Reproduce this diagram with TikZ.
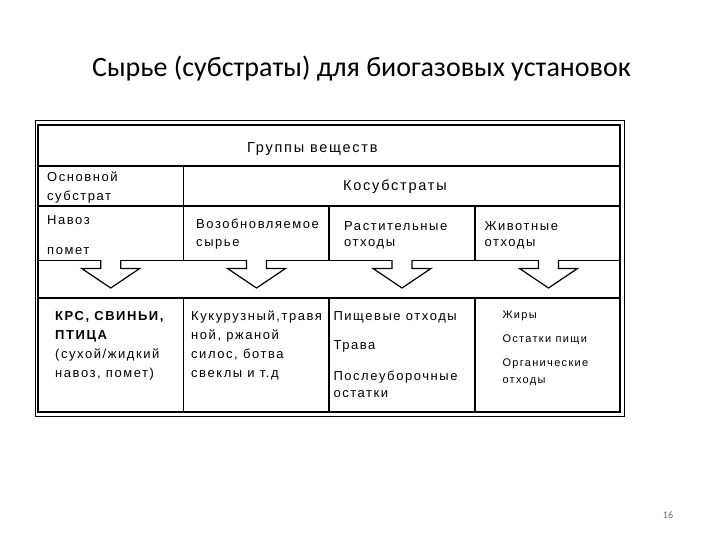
\documentclass[tikz,border=0pt]{standalone}
\usepackage{fontspec}
\setmainfont[LetterSpace=12]{Liberation Sans}
\newfontfamily\titlefont{Carlito}
\begin{document}
\begin{tikzpicture}[x=1pt,y=-1pt,
  thin frame/.style={line width=0.8pt},
  tbl/.style={line width=1.6pt},
  txt/.style={anchor=base west,inner sep=0pt,font=\fontsize{13}{15}\selectfont},
  small/.style={anchor=base west,inner sep=0pt,font=\fontsize{11}{13}\selectfont},
  head/.style={anchor=base west,inner sep=0pt,font=\fontsize{14.5}{17}\selectfont},
  bold/.style={anchor=base west,inner sep=0pt,font=\fontsize{13}{15}\selectfont\bfseries},
  arrowfill/.style={fill=white,draw=none},
  arrowline/.style={line width=1.2pt,line join=miter}]
\path[fill=white] (0,0) rectangle (720,540);
\useasboundingbox (0,0) rectangle (720,540);

% title
\node[anchor=base,inner sep=0pt,font=\titlefont\fontsize{28}{32}\selectfont] (title) at (361.5,77) {Сырье (субстраты) для биогазовых установок};
\node[anchor=base,inner sep=0pt,font=\titlefont\fontsize{10}{12}\selectfont,text=black!60] (page) at (668,518) {16};

% frames
\draw[thin frame] (35,120) rectangle (624,416);
\draw[tbl] (38,125) rectangle (620,412);
\draw[tbl] (38,166) -- (620,166);
\draw[tbl] (38,206) -- (620,206);
\draw[tbl] (38,260.5) -- (620,260.5);
\draw[tbl] (38,298) -- (620,298);
\draw[tbl] (183.5,166) -- (183.5,260.5);
\draw[tbl] (329,206) -- (329,260.5);
\draw[tbl] (475,206) -- (475,260.5);
\draw[tbl] (183.5,298) -- (183.5,412);
\draw[tbl] (329,298) -- (329,412);
\draw[tbl] (475,298) -- (475,412);

% arrows
\foreach \c in {110.7,256.5,402,548.5}{
  \path[arrowfill] (\c-10,259) -- (\c-10,268.5) -- (\c-29,268.5) -- (\c,288) -- (\c+29,268.5) -- (\c+10,268.5) -- (\c+10,259) -- cycle;
  \draw[arrowline] (\c-10,260) -- (\c-10,268.5) -- (\c-29,268.5) -- (\c,288) -- (\c+29,268.5) -- (\c+10,268.5) -- (\c+10,260);
}

% header texts
\node[head] (groups) at (247,152.5) {Группы веществ};
\node[txt] (osn1) at (47,181.5) {Основной};
\node[txt] (osn2) at (47,201) {субстрат};
\node[head] (kosub) at (343,190.7) {Косубстраты};
\node[txt] (navoz) at (47,225) {Навоз};
\node[txt] (pomet) at (47,254.3) {помет};
\node[txt] (voz1) at (196,229) {Возобновляемое};
\node[txt] (voz2) at (196,246.7) {сырье};
\node[txt] (rast1) at (344,230) {Растительные};
\node[txt] (rast2) at (344,246.7) {отходы};
\node[txt] (zhiv1) at (484.3,230) {Животные};
\node[txt] (zhiv2) at (484.3,246.7) {отходы};

% bottom row
\node[bold] (krs1) at (55,320) {КРС, СВИНЬИ,};
\node[bold] (krs2) at (55,339.3) {ПТИЦА};
\node[txt] (krs3) at (55,358.3) {(сухой/жидкий};
\node[txt] (krs4) at (55,377.3) {навоз, помет)};
\node[txt] (kuk1) at (191,320) {Кукурузный,травя};
\node[txt] (kuk2) at (191,339.3) {ной, ржаной};
\node[txt] (kuk3) at (191,358.3) {силос, ботва};
\node[txt] (kuk4) at (191,377.3) {свеклы и т.д};
\node[txt] (pish) at (333.3,320.7) {Пищевые отходы};
\node[txt] (trava) at (333.3,349) {Трава};
\node[txt] (posl1) at (333.3,380.7) {Послеуборочные};
\node[txt] (posl2) at (333.3,397.7) {остатки};
\node[small] (zhiry) at (502.3,318.3) {Жиры};
\node[small] (ostp) at (502.3,342.3) {Остатки пищи};
\node[small] (org1) at (502.3,366.7) {Органические};
\node[small] (org2) at (502.3,383.3) {отходы};
\end{tikzpicture}
\end{document}
